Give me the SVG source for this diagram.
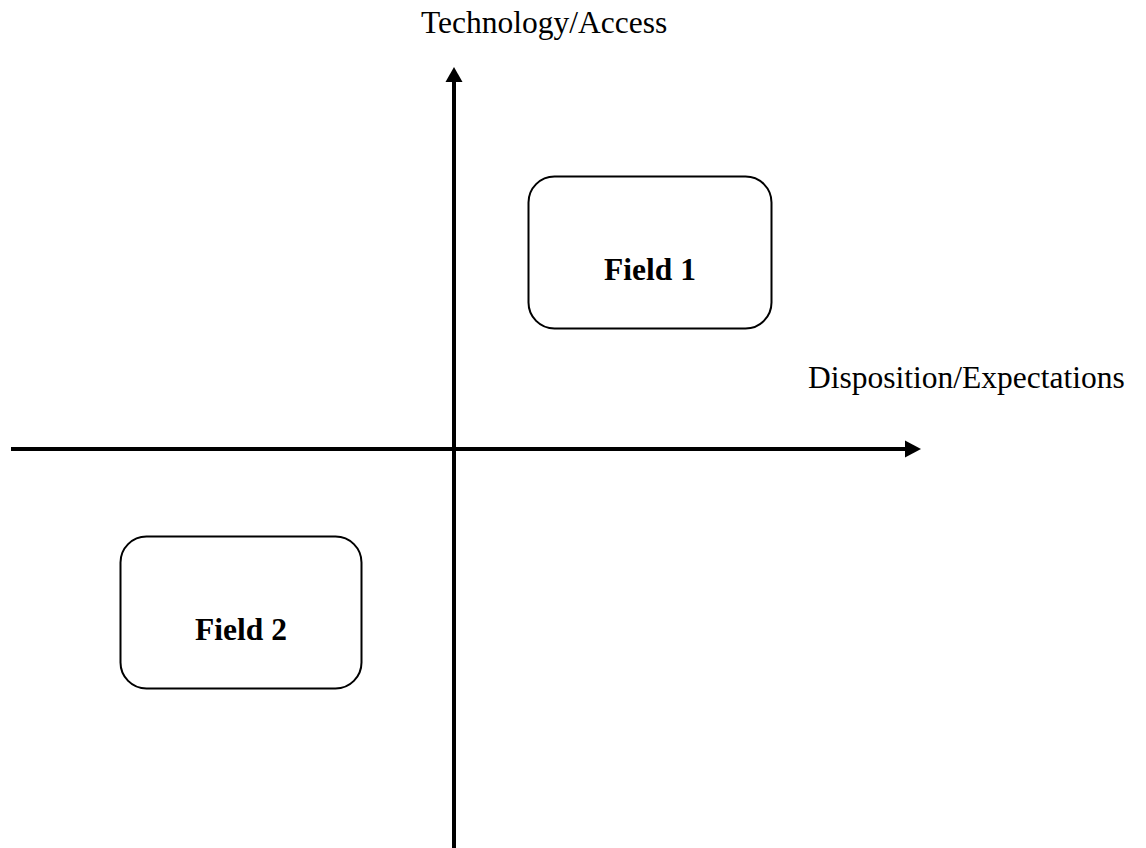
<svg xmlns="http://www.w3.org/2000/svg" width="1146" height="848" viewBox="0 0 1146 848">
<style>
.lbl{font-family:"Liberation Serif","Times New Roman",serif;font-size:31.5px;fill:#000}
.fld{font-family:"Liberation Serif","Times New Roman",serif;font-size:31.5px;font-weight:bold;fill:#000;text-anchor:middle}
.box{fill:#fff;stroke:#000;stroke-width:2}
.axis{stroke:#000;stroke-width:4;fill:none}
</style>
<rect width="1146" height="848" fill="#fff"/>
<g id="connectors">
<line class="axis" x1="11" y1="449" x2="906" y2="449"/>
<polygon points="905,440.5 921,449 905,457.5" fill="#000"/>
<line class="axis" x1="454" y1="848" x2="454" y2="81"/>
<polygon points="445.5,82 454,67 462.5,82" fill="#000"/>
</g>
<g id="label-y"><text class="lbl" x="421" y="33">Technology/Access</text></g>
<g id="label-x"><text class="lbl" x="808" y="388">Disposition/Expectations</text></g>
<g id="field1">
<rect class="box" x="528.5" y="176.5" width="243" height="152" rx="26" ry="26"/>
<text class="fld" x="650" y="280">Field 1</text>
</g>
<g id="field2">
<rect class="box" x="120.5" y="536.5" width="241" height="152" rx="26" ry="26"/>
<text class="fld" x="241" y="640">Field 2</text>
</g>
</svg>
